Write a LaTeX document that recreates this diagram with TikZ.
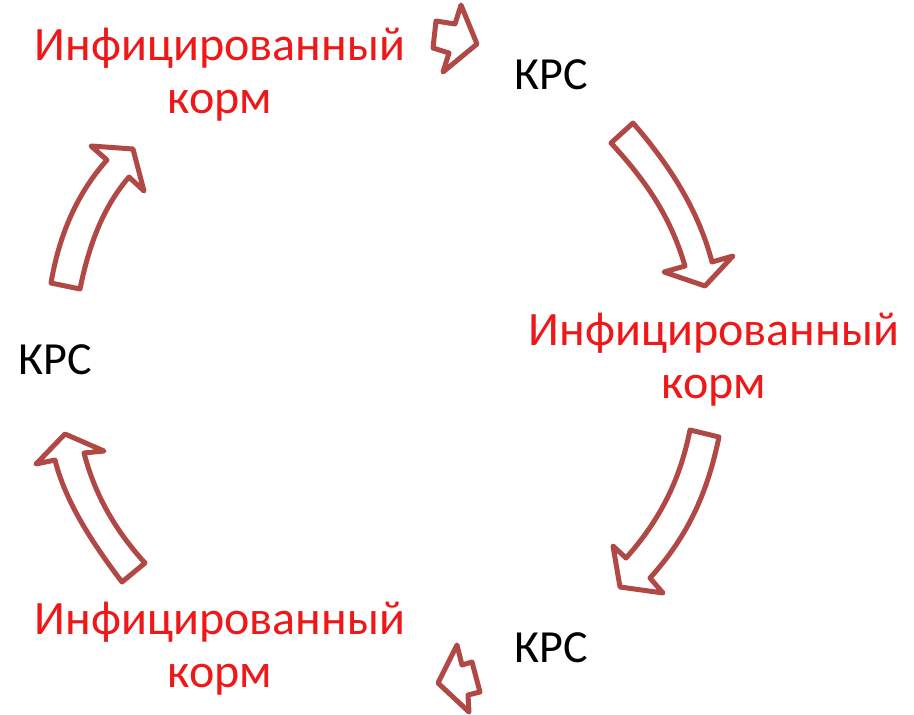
\documentclass[tikz,border=0pt]{standalone}
\usepackage{fontspec}
\setmainfont{Carlito}
\definecolor{arrowred}{RGB}{176,73,70}
\definecolor{textred}{RGB}{238,24,24}
\begin{document}
\begin{tikzpicture}[x=1pt,y=-1pt,
  blockarrow/.style={draw=arrowred,line width=5pt,line join=round,fill=white},
  redlabel/.style={text=textred,font=\fontsize{48}{53}\selectfont,align=center,inner sep=0pt},
  blacklabel/.style={text=black,font=\fontsize{46}{53}\selectfont,inner sep=0pt}]
\useasboundingbox (0,0) rectangle (914,715);
% labels
\node[redlabel] (f1) at (220,75) {Инфицированный\\корм};
\node[blacklabel] (k1) at (551,75) {КРС};
\node[redlabel] (f2) at (714,360) {Инфицированный\\корм};
\node[blacklabel] (k2) at (551,648) {КРС};
\node[redlabel] (f3) at (220,649) {Инфицированный\\корм};
\node[blacklabel] (k3) at (55,360) {КРС};
% arrow top small
\draw[blockarrow] (436,21) -- (455,24) -- (461,5) -- (477,44) -- (443,72) -- (449,53) -- (433,48) -- cycle;
% arrow right-top
\draw[blockarrow] (611,143) -- (633,123) .. controls (665,160) and (697,205) .. (712,262)
  -- (733,256) -- (705,286) -- (664,272) -- (685,266)
  .. controls (670,215) and (645,180) .. (611,143) -- cycle;
% arrow right-bottom
\draw[blockarrow] (690,430) -- (719,437) .. controls (707,495) and (687,537) .. (650,578)
  -- (663,593) -- (620,587) -- (613,546) -- (626,558)
  .. controls (660,520) and (680,480) .. (690,430) -- cycle;
% arrow bottom small
\draw[blockarrow] (457,645) -- (462,665) -- (472,662) -- (480,692) -- (468,695) -- (469,712) -- (438,683) -- cycle;
% arrow left-bottom
\draw[blockarrow] (145,563) -- (122,582) .. controls (90,540) and (65,500) .. (55,460)
  -- (36,464) -- (65,434) -- (104,451) -- (84,453)
  .. controls (95,495) and (115,530) .. (145,563) -- cycle;
% arrow left-top
\draw[blockarrow] (51,283) -- (80,289) .. controls (90,240) and (105,205) .. (129,177)
  -- (144,191) -- (133,149) -- (91,146) -- (107,160)
  .. controls (80,190) and (60,230) .. (51,283) -- cycle;
\end{tikzpicture}
\end{document}
